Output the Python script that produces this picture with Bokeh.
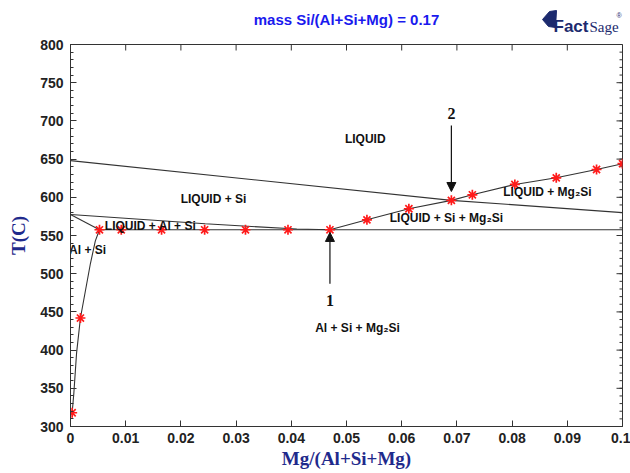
from bokeh.plotting import figure
from bokeh.layouts import column
from bokeh.models import FixedTicker, Range1d, Label, Arrow, NormalHead
from bokeh.core.properties import value
from bokeh.embed import file_html
from bokeh.resources import INLINE

# ---- axis ticks -------------------------------------------------------------
x_ticks = [0, 0.01, 0.02, 0.03, 0.04, 0.05, 0.06, 0.07, 0.08, 0.09, 0.1]
x_tick_labels = ["0", "0.01", "0.02", "0.03", "0.04", "0.05", "0.06", "0.07", "0.08", "0.09", "0.1"]
y_ticks = [300, 350, 400, 450, 500, 550, 600, 650, 700, 750, 800]
y_minor = list(range(300, 801, 10))

# ---- phase boundaries (x = Mg/(Al+Si+Mg), T in C) ----------------------------
# Al solvus curve
solvus_x = [0.0003, 0.0006, 0.0011, 0.0018, 0.0036, 0.0045, 0.00525]
solvus_t = [318, 343, 396, 442, 513, 543, 557.5]
# Al liquidus side of LIQUID + Al + Si
al_liq_x = [0.0, 0.00525]
al_liq_t = [577.5, 557.5]
# LIQUID + Si / LIQUID + Al + Si boundary
valley_x = [0.0, 0.0244, 0.041, 0.047]
valley_t = [577.5, 565.3, 558.5, 557.5]
# ternary eutectic isotherm
eut_x = [0.00525, 0.1]
eut_t = [557.5, 557.5]
# Si liquidus
si_liq_x = [0.0, 0.069]
si_liq_t = [648, 596]
# LIQUID + Si + Mg2Si / LIQUID + Mg2Si boundary
si_mg_x = [0.069, 0.1]
si_mg_t = [596, 580]
# Mg2Si liquidus
mg2si_x = [0.047, 0.0537, 0.0613, 0.069, 0.0728, 0.0805, 0.088, 0.0953, 0.1]
mg2si_t = [557.5, 570.5, 585, 596, 603.3, 616.8, 625.5, 636.4, 644]

# calculated points (red stars)
pts_x = [0.0003, 0.0018, 0.00525, 0.0092, 0.0165, 0.0243, 0.0317, 0.0394, 0.047,
         0.0537, 0.0613, 0.069, 0.0728, 0.0805, 0.088, 0.0953, 0.1]
pts_t = [318, 442, 557.5, 557.5, 557.5, 557.5, 557.5, 557.5, 557.5,
         570.5, 585, 596, 603.3, 616.8, 625.5, 636.4, 644]

# phase-field names
region_text = ["LIQUID", "LIQUID + Si", "LIQUID + Al + Si", "Al + Si",
               "LIQUID + Si + Mg\u2082Si", "LIQUID + Mg\u2082Si", "Al + Si + Mg\u2082Si"]
region_x = [0.0534, 0.0259, 0.0145, 0.0031, 0.0681, 0.0864, 0.052]
region_t = [675.7, 598.4, 562.2, 530.4, 573.2, 606.7, 428.3]

# invariant points marked with arrows
mark_text = ["1", "2"]
mark_x = [0.047, 0.069]

LINE = "#333333"
NAVY = "#1c2a6e"
SANS = "Liberation Sans"
SERIF = "Liberation Serif"
X0, X1, T0, T1 = 0, 0.1, 300, 800
FRAME_W, FRAME_H = 552, 382
LEFT, RIGHT = 70, 8
HEAD_H = 36
TOP = 8

# ---- heading strip: title and logo (pixel coordinates, y measured down) ------
hdr = figure(width=630, height=HEAD_H, output_backend="svg", toolbar_location=None,
             x_range=Range1d(LEFT, 630 - RIGHT), y_range=Range1d(HEAD_H, 0),
             x_axis_location=None, y_axis_location=None,
             min_border_left=LEFT, min_border_right=RIGHT, min_border_top=0, min_border_bottom=0,
             background_fill_color="white", border_fill_color="white")
hdr.grid.visible = False
hdr.outline_line_color = None
hdr.title.visible = False

hdr.text(x=[346], y=[19], text=["mass Si/(Al+Si+Mg) = 0.17"],
         text_font=value(SANS), text_font_style="bold", text_font_size="15px",
         text_color="#1a1aee", text_align="center", text_baseline="middle")
# logo: block mark followed by the word mark
hdr.patch(x=[542, 549, 556, 555, 548], y=[19, 11, 10, 27, 26],
          fill_color=NAVY, line_color=NAVY)
hdr.text(x=[553], y=[26], text=["Fact"], text_font=value(SANS),
         text_font_style="bold", text_font_size="17px", text_color=NAVY,
         text_align="left", text_baseline="alphabetic")
hdr.text(x=[589], y=[26], text=["Sage"], text_font=value(SERIF),
         text_font_size="15px", text_color=NAVY, text_align="left",
         text_baseline="alphabetic")
hdr.text(x=[616], y=[15], text=["\u00ae"], text_font=value(SANS),
         text_font_size="7px", text_color=NAVY, text_align="left", text_baseline="middle")

# ---- phase diagram -------------------------------------------------------------
p = figure(width=630, height=473 - HEAD_H, output_backend="svg", toolbar_location=None,
           x_range=Range1d(X0, X1), y_range=Range1d(T0, T1),
           min_border_left=LEFT, min_border_right=RIGHT, min_border_top=TOP,
           min_border_bottom=47, background_fill_color="white", border_fill_color="white")
p.title.visible = False
p.grid.visible = False
p.outline_line_color = LINE
p.outline_line_width = 1

xa = p.xaxis[0]
xa.ticker = FixedTicker(ticks=x_ticks, minor_ticks=[])
xa.major_label_overrides = dict(zip(x_ticks, x_tick_labels))
xa.axis_label = "Mg/(Al+Si+Mg)"
ya = p.yaxis[0]
ya.ticker = FixedTicker(ticks=y_ticks, minor_ticks=y_minor)
ya.axis_label = "T(C)"

for ax in (xa, ya):
    ax.axis_line_color = LINE
    ax.major_tick_line_color = LINE
    ax.minor_tick_line_color = LINE
    ax.major_tick_in = 6
    ax.major_tick_out = 0
    ax.minor_tick_in = 3
    ax.minor_tick_out = 0
    ax.major_label_text_font = SANS
    ax.major_label_text_font_style = "bold"
    ax.major_label_text_font_size = "14px"
    ax.major_label_text_color = "#222222"
    ax.axis_label_text_font = SERIF
    ax.axis_label_text_font_style = "bold"
    ax.axis_label_text_font_size = "19px"
    ax.axis_label_text_color = "#1f2a8c"
xa.major_label_standoff = 6
xa.axis_label_standoff = 2
ya.major_label_standoff = 7
ya.axis_label_standoff = 8

# mirrored inward ticks along the top and right edges of the frame
tx = (X1 - X0) / FRAME_W   # data units per pixel, x
ty = (T1 - T0) / FRAME_H   # data units per pixel, T
p.segment(x0=x_ticks, y0=[T1] * len(x_ticks), x1=x_ticks, y1=[T1 - 6 * ty] * len(x_ticks),
          line_color=LINE, line_width=1)
p.segment(x0=[X1] * len(y_ticks), y0=y_ticks, x1=[X1 - 6 * tx] * len(y_ticks), y1=y_ticks,
          line_color=LINE, line_width=1)
p.segment(x0=[X1] * len(y_minor), y0=y_minor, x1=[X1 - 3 * tx] * len(y_minor), y1=y_minor,
          line_color=LINE, line_width=1)

# phase boundaries
for xs, ts in ((solvus_x, solvus_t), (al_liq_x, al_liq_t), (valley_x, valley_t),
               (eut_x, eut_t), (si_liq_x, si_liq_t), (si_mg_x, si_mg_t),
               (mg2si_x, mg2si_t)):
    p.line(xs, ts, line_color=LINE, line_width=1.1)

# calculated points
p.scatter(pts_x, pts_t, marker="asterisk", size=10, line_color="#ff1a1a", line_width=1.7)

# region labels
p.text(x=region_x, y=region_t, text=region_text, text_font=value(SANS),
       text_font_style="bold", text_font_size="12px", text_color="#111111",
       text_align="center", text_baseline="middle")

# arrows to invariant points 1 (pointing up) and 2 (pointing down)
arrow_from = [487, 694]
arrow_to = [554, 607.6]
label_t = [465, 709.7]
for mx, a0, a1, lt, txt in zip(mark_x, arrow_from, arrow_to, label_t, mark_text):
    p.add_layout(Arrow(end=NormalHead(size=9, fill_color="#111111", line_color="#111111"),
                       x_start=mx, y_start=a0, x_end=mx, y_end=a1,
                       line_color="#111111", line_width=1.2))
    p.add_layout(Label(x=mx, y=lt, text=txt, text_font=SERIF, text_font_style="bold",
                       text_font_size="16px", text_color="#111111",
                       text_align="center", text_baseline="middle"))

layout = column(hdr, p, spacing=0)
open("out.html", "w").write(file_html(layout, INLINE))
